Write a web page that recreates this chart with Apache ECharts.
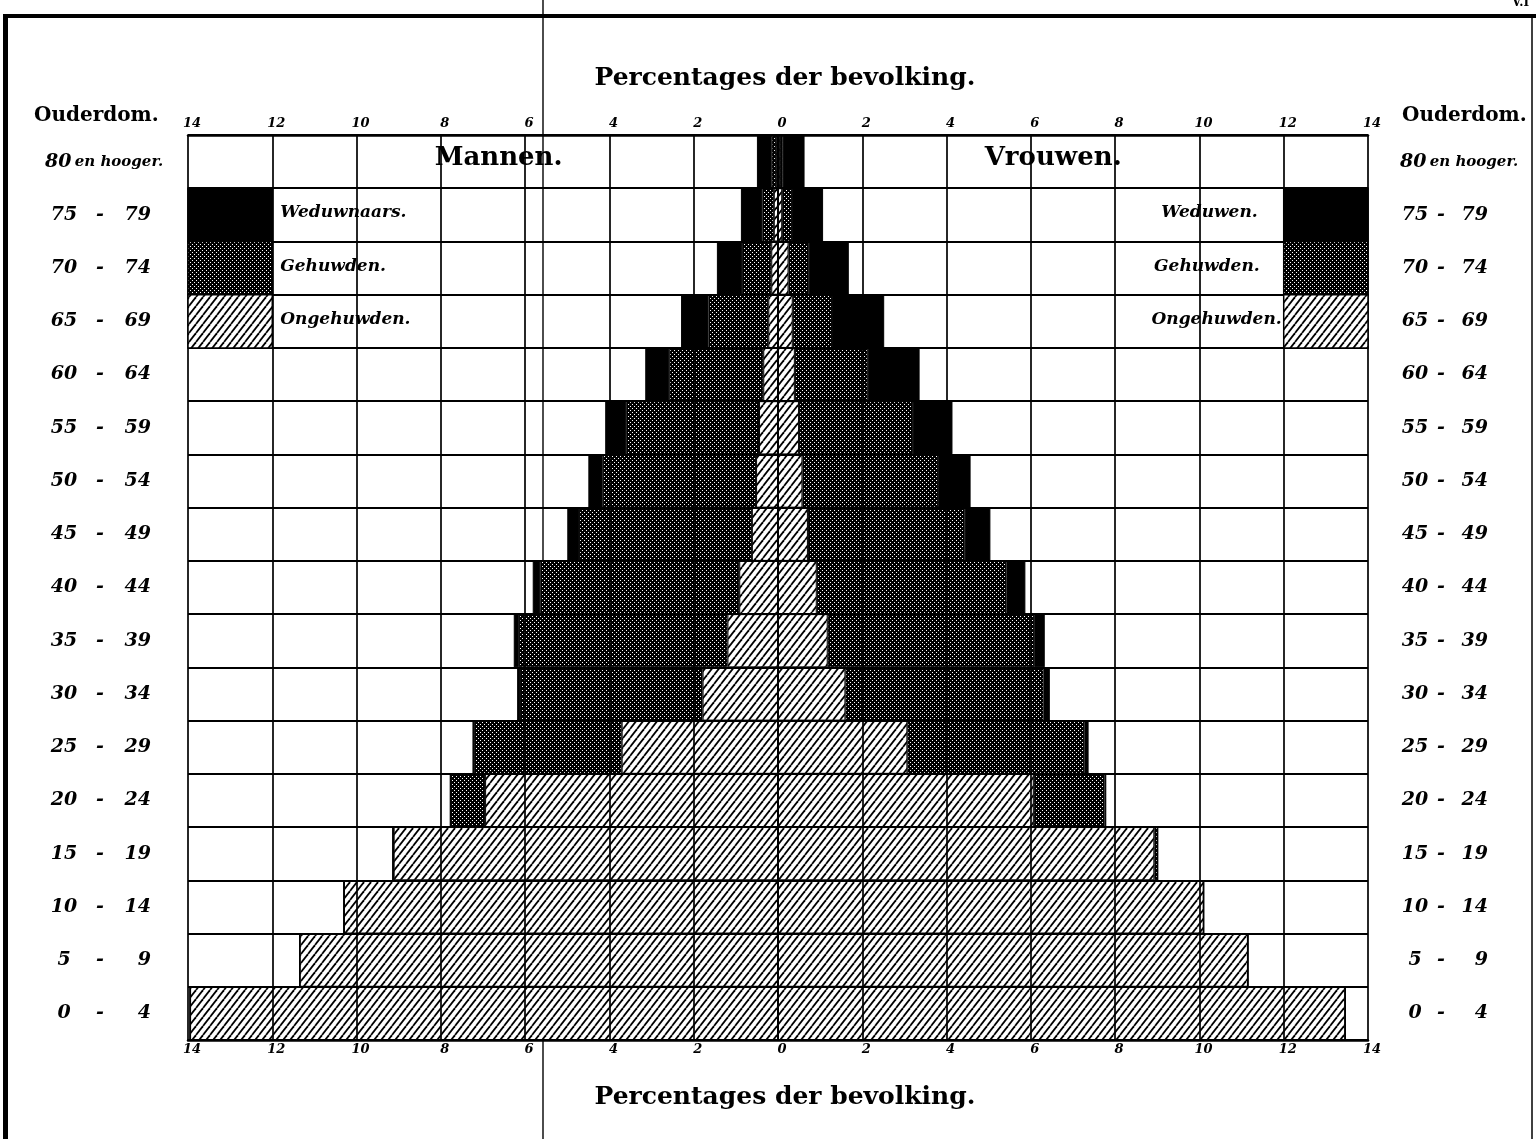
<!DOCTYPE html>
<html><head><meta charset="utf-8">
<script src="https://cdn.jsdelivr.net/npm/echarts@6/dist/echarts.min.js"></script>
<style>html,body{margin:0;padding:0;background:#fff}#c{width:1536px;height:1139px}</style>
</head><body><div id="c"></div>
<script>
// ---- DATA (bottom row first) ----
const ageGroups = ['0 - 4','5 - 9','10 - 14','15 - 19','20 - 24','25 - 29','30 - 34','35 - 39','40 - 44','45 - 49','50 - 54','55 - 59','60 - 64','65 - 69','70 - 74','75 - 79','80 en hooger.'];
// Mannen (percentages of male population)
const menUnmarried = [13.95, 11.35, 10.30, 9.12, 6.95, 3.71, 1.79, 1.20, 0.92, 0.62, 0.52, 0.45, 0.35, 0.23, 0.16, 0.10, 0.05];
const menMarried   = [0, 0, 0, 0.02, 0.82, 3.50, 4.33, 4.95, 4.72, 4.10, 3.64, 3.15, 2.23, 1.42, 0.69, 0.27, 0.10];
const menWidowed   = [0, 0, 0, 0, 0.01, 0.04, 0.07, 0.12, 0.18, 0.28, 0.34, 0.50, 0.57, 0.65, 0.60, 0.51, 0.35];
// Vrouwen (percentages of female population)
const womenUnmarried = [13.46, 11.15, 10.10, 8.93, 6.07, 3.07, 1.60, 1.18, 0.92, 0.71, 0.58, 0.50, 0.40, 0.35, 0.25, 0.10, 0.05];
const womenMarried   = [0, 0, 0, 0.08, 1.68, 4.20, 4.70, 4.90, 4.50, 3.72, 3.22, 2.70, 1.73, 0.93, 0.48, 0.23, 0.06];
const womenWidowed   = [0, 0, 0, 0, 0.04, 0.10, 0.15, 0.25, 0.45, 0.61, 0.77, 0.94, 1.23, 1.24, 0.95, 0.74, 0.52];
const tickValues = [14, 12, 10, 8, 6, 4, 2, 0, 2, 4, 6, 8, 10, 12, 14];
const menLegendLabels = ['Weduwnaars.', 'Gehuwden.', 'Ongehuwden.'];
const womenLegendLabels = ['Weduwen.', 'Gehuwden.', 'Ongehuwden.'];
const legendRows = ['75 - 79', '70 - 74', '65 - 69'];
const sexLabels = ['Mannen.', 'Vrouwen.'];
const titleText = 'Percentages der bevolking.';
const ageTitle = 'Ouderdom.';

// ---- patterns ----
function hatchCanvas() {
  const w = 7, h = 9;
  const c = document.createElement('canvas'); c.width = w; c.height = h;
  const g = c.getContext('2d');
  g.fillStyle = '#fff'; g.fillRect(0, 0, w, h);
  g.strokeStyle = '#000'; g.lineWidth = 1.8;
  for (const dx of [-w, 0, w]) { g.beginPath(); g.moveTo(dx, h); g.lineTo(dx + w, 0); g.stroke(); }
  return c;
}
function dotCanvas() {
  const c = document.createElement('canvas'); c.width = 4; c.height = 4;
  const g = c.getContext('2d');
  g.fillStyle = '#000'; g.fillRect(0, 0, 4, 4);
  g.fillStyle = '#fff'; g.fillRect(0, 0, 1, 1); g.fillRect(2, 2, 1, 1);
  return c;
}
const hatchFill = { image: hatchCanvas(), repeat: 'repeat' };
const dotFill = { image: dotCanvas(), repeat: 'repeat' };
const fills = ['#000', dotFill, hatchFill];
const womenLabelShift = [26, 24, 2];

const SERIF = '"DejaVu Serif", "Liberation Serif", serif';
const chart = echarts.init(document.getElementById('c'), null, { renderer: 'canvas' });

function ageFmt(v) {
  if (v.indexOf(' - ') < 0) { const p = v.split(' '); return '{n|' + p[0] + '} {s|' + p.slice(1).join(' ') + '}'; }
  const [a, b] = v.split(' - ');
  return '{a|' + a + '}{d|-}{b|' + b + '}';
}
function richFor(aw, dw, bw) {
  const base = { fontFamily: SERIF, fontStyle: 'italic', fontWeight: 'bold', fontSize: 19, color: '#000' };
  return {
    a: Object.assign({ width: aw, align: 'right' }, base),
    d: Object.assign({ width: dw, align: 'center' }, base),
    b: Object.assign({ width: bw, align: 'right' }, base),
    n: Object.assign({}, base),
    s: Object.assign({}, base, { fontSize: 15 })
  };
}

const barCommon = { type: 'bar', stack: 'all', barWidth: '100%', barCategoryGap: '0%', silent: true };
function barStyle(fill) { return { itemStyle: { color: fill, borderColor: '#000', borderWidth: 1 } }; }

const legendData = [];
for (let k = 0; k < 3; k++) {
  legendData.push([-14, -12, legendRows[k], k, -1]);
  legendData.push([12, 14, legendRows[k], k, 1]);
}

const titleStyle = { fontFamily: SERIF, fontWeight: 'bold', fontSize: 25, color: '#000' };
const ageTitleStyle = { fontFamily: SERIF, fontWeight: 'bold', fontSize: 20, color: '#000' };

const option = {
  animation: false,
  backgroundColor: '#fff',
  title: [
    { text: titleText, left: 780, textAlign: 'center', top: 61, textStyle: titleStyle },
    { text: titleText, left: 780, textAlign: 'center', top: 1080, textStyle: titleStyle },
    { text: ageTitle, left: 29, top: 101, textStyle: ageTitleStyle },
    { text: ageTitle, left: 1397, top: 101, textStyle: ageTitleStyle }
  ],
  grid: { left: 188, right: 168, top: 135, bottom: 99, containLabel: false },
  xAxis: [
    { type: 'value', position: 'top', min: -14, max: 14, interval: 2, z: 5,
      axisLine: { show: true, onZero: false, lineStyle: { color: '#000', width: 2.5 } },
      axisTick: { show: false },
      splitLine: { show: true, lineStyle: { color: '#000', width: 1.7 } },
      axisLabel: { margin: 5, padding: [0, 0, 0, 8], fontFamily: SERIF, fontStyle: 'italic', fontWeight: 'bold', fontSize: 13, color: '#000',
        formatter: v => String(Math.abs(v)) } },
    { type: 'value', position: 'bottom', min: -14, max: 14, interval: 2, z: 5,
      axisLine: { show: true, onZero: false, lineStyle: { color: '#000', width: 2.5 } },
      axisTick: { show: false },
      splitLine: { show: false },
      axisLabel: { margin: 3, padding: [0, 0, 0, 8], fontFamily: SERIF, fontStyle: 'italic', fontWeight: 'bold', fontSize: 13, color: '#000',
        formatter: v => String(Math.abs(v)) } }
  ],
  yAxis: [
    { type: 'category', data: ageGroups, position: 'left', z: 5,
      axisLine: { show: false }, axisTick: { show: false },
      splitLine: { show: true, interval: 0, lineStyle: { color: '#000', width: 1.8 } },
      axisLabel: { interval: 0, align: 'left', margin: 143, formatter: ageFmt, rich: richFor(38, 34, 34) } },
    { type: 'category', data: ageGroups, position: 'right', z: 5,
      axisLine: { show: false }, axisTick: { show: false }, splitLine: { show: false },
      axisLabel: { interval: 0, align: 'left', margin: 32, formatter: ageFmt, rich: richFor(30, 22, 36) } }
  ],
  series: [
    Object.assign({ name: 'Mannen ongehuwd', data: menUnmarried.map(v => -v) }, barCommon, barStyle(hatchFill)),
    Object.assign({ name: 'Mannen gehuwd', data: menMarried.map(v => -v) }, barCommon, barStyle(dotFill)),
    Object.assign({ name: 'Mannen weduwnaars', data: menWidowed.map(v => -v) }, barCommon, barStyle('#000')),
    Object.assign({ name: 'Vrouwen ongehuwd', data: womenUnmarried }, barCommon, barStyle(hatchFill)),
    Object.assign({ name: 'Vrouwen gehuwd', data: womenMarried }, barCommon, barStyle(dotFill)),
    Object.assign({ name: 'Vrouwen weduwen', data: womenWidowed }, barCommon, barStyle('#000')),
    {
      type: 'custom', name: 'legend', silent: true, z: 10, clip: false,
      encode: { x: [0, 1], y: 2 },
      data: legendData,
      renderItem(params, api) {
        const x0 = api.value(0), x1 = api.value(1), row = api.value(2), kind = api.value(3), side = api.value(4);
        const p0 = api.coord([x0, row]), p1 = api.coord([x1, row]);
        const h = api.size([0, 1])[1];
        const label = side < 0 ? menLegendLabels[kind] : womenLegendLabels[kind];
        return { type: 'group', children: [
          { type: 'rect', shape: { x: p0[0], y: p0[1] - h / 2, width: p1[0] - p0[0], height: h },
            style: { fill: fills[kind], stroke: '#000', lineWidth: 1.5 } },
          { type: 'text', style: { text: label, x: side < 0 ? p1[0] + 8 : p0[0] - womenLabelShift[kind], y: p0[1] - 2,
            align: side < 0 ? 'left' : 'right', verticalAlign: 'middle',
            font: 'italic bold 17px ' + SERIF, fill: '#000' } }
        ] };
      }
    },
    {
      type: 'custom', name: 'sexes', silent: true, z: 10, clip: false,
      encode: { x: 0, y: 1 },
      data: [[-6.63, ageGroups[16], 0], [6.53, ageGroups[16], 1]],
      renderItem(params, api) {
        const p = api.coord([api.value(0), api.value(1)]);
        return { type: 'text', style: { text: sexLabels[api.value(2)], x: p[0], y: p[1] - 3,
          align: 'center', verticalAlign: 'middle', font: 'bold 26px ' + SERIF, fill: '#000' } };
      }
    }
  ],
  graphic: [
    { type: 'rect', silent: true, shape: { x: 3, y: 14, width: 5, height: 1125 }, style: { fill: '#000' } },
    { type: 'rect', silent: true, shape: { x: 3, y: 14, width: 1533, height: 4 }, style: { fill: '#000' } },
    { type: 'line', silent: true, shape: { x1: 1532, y1: 14, x2: 1532, y2: 1139 }, style: { stroke: '#000', lineWidth: 1.5 } },
    { type: 'line', silent: true, shape: { x1: 543, y1: 0, x2: 543, y2: 1139 }, style: { stroke: '#000', lineWidth: 1.4 } },
    { type: 'text', silent: true, style: { text: 'V.I', x: 1512, y: -3, font: 'bold 12px ' + SERIF, fill: '#000' } }
  ]
};
chart.setOption(option);
</script>
</body></html>
